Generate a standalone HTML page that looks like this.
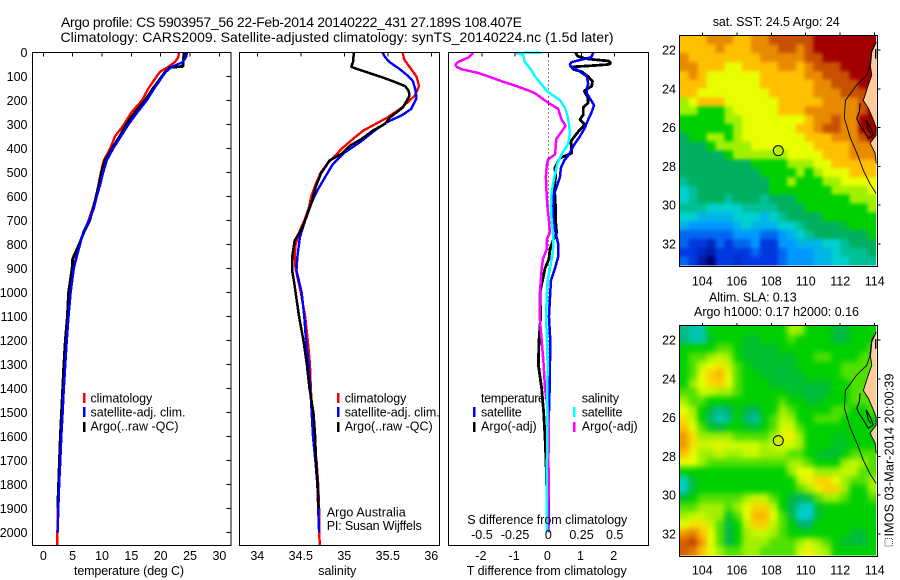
<!DOCTYPE html>
<html>
<head>
<meta charset="utf-8">
<title>Argo profile CS 5903957_56</title>
<style>
html,body{margin:0;padding:0;background:#fff;width:900px;height:580px;overflow:hidden}
svg{display:block}
text{font-family:"Liberation Sans",Arial,sans-serif;font-size:12.5px;fill:#000}
.t{font-size:14px}
</style>
</head>
<body>
<svg id="fig" xmlns="http://www.w3.org/2000/svg" width="900" height="580" viewBox="0 0 900 580">
<defs>
<clipPath id="clipSst"><rect x="679.6" y="35.5" width="196.6" height="230"/></clipPath>
<clipPath id="clipSla"><rect x="679.6" y="326" width="196.6" height="229.5"/></clipPath>
<filter id="blurSst" filterUnits="userSpaceOnUse" x="640" y="0" width="260" height="300" color-interpolation-filters="sRGB"><feGaussianBlur stdDeviation="1.8"/></filter>
<filter id="blurSla" filterUnits="userSpaceOnUse" x="640" y="290" width="260" height="290" color-interpolation-filters="sRGB"><feGaussianBlur stdDeviation="2.8"/></filter>
</defs>
<rect width="900" height="580" fill="#fff"/>
<text class="t" x="61" y="27" textLength="461" lengthAdjust="spacing">Argo profile: CS 5903957_56 22-Feb-2014 20140222_431 27.189S 108.407E</text>
<text class="t" x="60.5" y="42" textLength="553" lengthAdjust="spacing">Climatology: CARS2009. Satellite-adjusted climatology: synTS_20140224.nc (1.5d later)</text>

<g id="marks"></g>

<rect x="32.5" y="52.5" width="198.5" height="493" fill="none" stroke="#000"/>
<rect x="239.5" y="52.5" width="200" height="493" fill="none" stroke="#000"/>
<rect x="448.5" y="52.5" width="200" height="493" fill="none" stroke="#000"/>
<rect x="679.5" y="35.5" width="198" height="231" fill="none" stroke="#000"/>
<rect x="679.5" y="325.5" width="198" height="231" fill="none" stroke="#000"/>

<text x="74" y="575" textLength="110" lengthAdjust="spacing">temperature (deg C)</text>
<text x="318.3" y="575" textLength="38" lengthAdjust="spacing">salinity</text>
<text x="466.7" y="575" textLength="160" lengthAdjust="spacing">T difference from climatology</text>
<text x="467.3" y="524" textLength="160" lengthAdjust="spacing">S difference from climatology</text>

<g>
<rect x="83" y="393" width="2.5" height="10" fill="#f00"/>
<rect x="83" y="407" width="2.5" height="10" fill="#00f"/>
<rect x="83" y="422" width="2.5" height="10" fill="#000"/>
<text x="90.5" y="402.5" textLength="61.7" lengthAdjust="spacing">climatology</text>
<text x="90.5" y="416.5" textLength="95" lengthAdjust="spacing">satellite-adj. clim.</text>
<text x="90.5" y="430.5" textLength="88" lengthAdjust="spacing">Argo(..raw -QC)</text>
</g>
<g>
<rect x="337" y="393" width="2.5" height="10" fill="#f00"/>
<rect x="337" y="407" width="2.5" height="10" fill="#00f"/>
<rect x="337" y="422" width="2.5" height="10" fill="#000"/>
<text x="344.7" y="402.5" textLength="61.7" lengthAdjust="spacing">climatology</text>
<text x="344.7" y="416.5" textLength="95" lengthAdjust="spacing">satellite-adj. clim.</text>
<text x="344.7" y="430.5" textLength="88" lengthAdjust="spacing">Argo(..raw -QC)</text>
</g>
<g>
<text x="481" y="402.5" textLength="64" lengthAdjust="spacing">temperature</text>
<text x="481" y="416.5" textLength="40.7" lengthAdjust="spacing">satellite</text>
<text x="481" y="430.5" textLength="55.7" lengthAdjust="spacing">Argo(-adj)</text>
<rect x="473" y="407" width="2.5" height="10" fill="#00f"/>
<rect x="473" y="422" width="2.5" height="10" fill="#000"/>
<text x="581.7" y="402.5" textLength="37.3" lengthAdjust="spacing">salinity</text>
<text x="581.7" y="416.5" textLength="40.7" lengthAdjust="spacing">satellite</text>
<text x="581.7" y="430.5" textLength="56" lengthAdjust="spacing">Argo(-adj)</text>
<rect x="573" y="407" width="2.5" height="10" fill="#0ff"/>
<rect x="573" y="422" width="2.5" height="10" fill="#f0f"/>
</g>
<text x="326.7" y="516.5" textLength="79" lengthAdjust="spacing">Argo Australia</text>
<text x="326.7" y="530" textLength="95" lengthAdjust="spacing">PI: Susan Wijffels</text>

<text x="712.7" y="26" textLength="127" lengthAdjust="spacing">sat. SST: 24.5 Argo: 24</text>
<text x="709" y="301.5" textLength="87.7" lengthAdjust="spacing">Altim. SLA: 0.13</text>
<text x="694" y="316" textLength="165" lengthAdjust="spacing">Argo h1000: 0.17 h2000: 0.16</text>

<rect x="885" y="538.5" width="7.5" height="7.5" fill="none" stroke="#555" stroke-dasharray="1 1"/>
<text transform="translate(893.5 536.5) rotate(-90)" textLength="163" lengthAdjust="spacing">IMOS 03-Mar-2014 20:00:39</text>
</svg>
<script>
// ---- axis data ----
const depthTicks = [0,100,200,300,400,500,600,700,800,900,1000,1100,1200,1300,1400,1500,1600,1700,1800,1900,2000];
const tempTicks = [0,5,10,15,20,25,30];
const salTicks = [34,34.5,35,35.5,36];
const salTickLabels = ['34','34.5','35','35.5','36'];
const tDiffTicks = [-2,-1,0,1,2];
const sDiffTicks = [-0.5,-0.25,0,0.25,0.5];
const sDiffTickLabels = ['-0.5','-0.25','0','0.25','0.5'];
const lonTicks = [104,106,108,110,112,114];
const latTicks = [22,24,26,28,30,32];

// ---- temperature panel ----
const tempClimDepth = [0,20,40,60,80,100,150,200,250,300,350,400,450,500,550,600,650,700,750,800,850,900,1000,1100,1200,1300,1400,1500,1600,1700,1800,1850,1900,2000,2056];
const tempClim = [23.1,23,22.4,21.3,19.9,19.3,17.9,16.8,15,13.75,12.2,11.4,10.3,9.8,9.4,9,8.4,7.7,6.9,6.1,5.6,5.2,4.5,4.25,3.95,3.7,3.45,3.25,3.05,2.85,2.65,2.5,2.5,2.4,2.4];
const tempSatDepth = [0,20,40,60,80,100,150,200,250,300,350,400,450,500,550,600,650,700,750,800,850,900,1000,1100,1200,1300,1400,1500,1600,1700,1800,1900,2000];
const tempSat = [24.5,24.3,23.75,21.9,20.9,20.3,18.9,17.6,16,14.5,13.2,11.9,10.8,10.2,9.7,9.1,8.6,7.8,6.8,6.25,5.7,5.2,4.66,4.3,4,3.75,3.5,3.3,3.07,2.9,2.7,2.56,2.44];
const tempArgoDepth = [0,20,40,58,62,80,100,150,200,250,300,350,400,450,500,550,600,650,700,750,800,860,900,1000,1100,1200,1300,1400,1500,1600,1700,1800,1900];
const tempArgo = [24,23.9,23.8,23.8,21.6,20.8,20.2,18.7,17.3,15.6,14.1,13,11.7,10.5,9.9,9.5,9,8.5,7.9,6.9,6.1,5,4.9,4.3,4.1,3.75,3.5,3.3,3.1,2.9,2.75,2.6,2.45];

// ---- salinity panel ----
const salClimDepth = [0,30,60,100,140,180,200,230,272,325,360,401,433,457,500,550,600,650,700,750,800,850,900,950,1000,1100,1200,1300,1400,1500,1600,1700,1800,1900,2000,2056];
const salClim = [35.67,35.69,35.75,35.83,35.86,35.81,35.75,35.66,35.49,35.22,35.1,34.97,34.89,34.82,34.73,34.67,34.62,34.59,34.54,34.48,34.44,34.43,34.44,34.47,34.5,34.55,34.58,34.605,34.615,34.63,34.65,34.68,34.7,34.71,34.71,34.72];
const salSatDepth = [0,20,40,70,100,120,160,190,235,262,290,325,374,415,464,519,575,644,700,769,853,908,1000,1100,1200,1300,1400,1500,1600,1700,1800,1900,2000];
const salSat = [35.44,35.47,35.52,35.64,35.74,35.79,35.82,35.83,35.77,35.66,35.49,35.35,35.18,35.01,34.87,34.78,34.69,34.6,34.55,34.49,34.46,34.45,34.51,34.54,34.56,34.59,34.61,34.625,34.64,34.667,34.69,34.7,34.71];
const salArgoDepth = [0,40,60,80,100,120,140,160,180,200,230,272,297,325,360,387,422,450,478,505,561,630,700,742,783,853,908,950,1000,1100,1200,1300,1400,1500,1600,1700,1800,1900];
const salArgo = [35.11,35.1,35.08,35.24,35.41,35.56,35.7,35.74,35.75,35.72,35.67,35.52,35.47,35.33,35.2,35.07,34.97,34.83,34.78,34.73,34.67,34.62,34.55,34.5,34.43,34.4,34.4,34.42,34.44,34.48,34.53,34.57,34.6,34.645,34.665,34.675,34.695,34.705];

// ---- difference panel ----
const dTSatDepth = [0,20,30,40,50,60,70,100,130,150,170,190,220,250,280,320,350,390,420,450,480,520,560,600,700,750,800,850,900,950,1000,1100,1200,1300,1400,1500,1600,1700,1800,1900,2000];
const dTSat = [1.36,1.29,1,0.7,0.65,0.68,0.85,1.16,1.2,1.16,1.16,1.25,1.38,1.3,1.2,1.08,0.95,0.75,0.65,0.48,0.38,0.35,0.25,0.15,0.15,0.22,0.3,0.3,0.2,0.08,0.06,0.02,0.06,0.05,0.04,0.02,0.02,0,0.01,0.02,0];
const dTArgoDepth = [0,15,25,30,35,40,45,50,55,60,70,80,100,120,140,160,190,210,230,260,280,300,330,370,400,420,440,480,520,560,600,650,700,750,780,820,860,900,1000,1100,1200,1300,1400,1500,1600,1700,1800,1900,2000];
const dTArgo = [0.82,0.88,1.1,1.4,1.8,1.86,1.88,1.8,1.3,0.7,0.75,1,1.2,1.33,1.31,1.08,1.2,1.2,1.05,1.05,0.95,1.1,0.9,0.68,0.7,0.7,0.35,0.2,0.22,0.18,0.2,0.22,0.22,0.25,0.15,0.05,0.02,-0.1,-0.25,-0.23,-0.28,-0.3,-0.2,-0.14,-0.1,-0.07,-0.05,-0.03,-0.02];
const dSSatDepth = [0,3,10,40,60,80,100,130,160,180,200,230,260,300,340,380,420,460,520,580,640,700,750,800,850,900,950,1000,1100,1200,1300,1400,1500,1600,1700,1800,1900,2000];
const dSSat = [-0.05,-0.24,-0.19,-0.176,-0.146,-0.12,-0.1,-0.055,-0.0125,0.04,0.09,0.125,0.143,0.156,0.163,0.15,0.105,0.07,0.045,0.025,0.02,0.025,0.035,0.038,0.03,0.0125,-0.005,-0.01,-0.017,-0.01,-0.005,-0.007,-0.007,-0.007,-0.01,-0.01,-0.01,-0.01];
const dSArgoDepth = [0,10,20,30,40,50,60,70,85,100,120,140,160,170,190,210,235,260,280,305,330,360,400,425,445,470,520,600,650,700,750,780,820,860,900,1000,1100,1200,1300,1400,1500,1600,1700,1800,1900,2000];
const dSArgo = [-0.565,-0.58,-0.6,-0.64,-0.68,-0.7,-0.69,-0.65,-0.53,-0.45,-0.35,-0.24,-0.14,-0.1,-0.05,0,0.075,0.088,0.1,0.13,0.1,0.06,0.055,0.05,0,-0.012,-0.018,-0.012,-0.005,0.005,0.012,-0.012,-0.012,-0.04,-0.05,-0.063,-0.065,-0.05,-0.035,-0.025,0,0.005,0,0.005,0,-0.005];

// ---- map data: colour-scale level per cell (0 dark blue .. 11 dark red) ----
const sstLevels = [
[8,8,8,9,9,9,8,8,9,9,10,10,10,10,10,11,11,11,11,11,11,11],
[8,8,8,8,9,8,8,8,9,9,9,10,10,9,10,11,11,11,11,11,11,11],
[9,8,8,8,8,8,8,8,8,9,9,9,9,9,10,10,11,11,11,11,11,11],
[9,9,8,8,8,7,7,8,8,8,8,9,9,8,9,10,10,10,11,11,11,11],
[8,9,8,7,7,7,7,7,7,8,8,8,8,8,9,9,10,10,10,11,11,11],
[8,8,8,7,7,7,7,7,7,8,8,8,8,8,8,9,9,10,10,10,11,11],
[8,8,7,7,7,7,7,7,7,7,8,8,8,8,8,9,9,9,10,10,10,11],
[6,7,8,8,8,7,7,7,7,7,7,8,8,8,8,8,9,9,9,9,10,10],
[6,6,5,5,5,6,7,7,7,7,7,8,8,8,9,9,9,9,9,9,10,11],
[5,5,5,5,5,6,6,7,7,7,7,7,7,7,8,9,9,10,9,9,11,11],
[5,5,5,5,5,5,6,7,7,7,7,7,7,8,8,9,10,10,9,9,11,11],
[4,5,5,6,6,5,6,7,7,7,7,7,7,7,8,8,8,9,9,9,10,11],
[4,4,4,5,6,6,6,6,7,7,7,7,7,7,7,8,8,8,8,9,9,9],
[4,4,4,4,4,5,6,6,6,6,6,6,7,7,7,7,8,8,8,9,9,9],
[4,4,4,4,4,4,4,4,5,5,5,5,6,6,6,7,7,8,8,8,8,8],
[4,4,4,4,4,4,4,4,4,5,5,5,5,6,5,6,7,7,7,8,8,8],
[3.5,4,4,4,4,4,4,4,4,4,5,5,6,5,5,5,6,6,7,7,7,7],
[3,3.5,4,4,4,4,4,4,4,4,5,5,5,5,5,5,5,6,6,6,6,7],
[3,3.5,4,4,4,3.5,4,4,4,3.5,4,4,4,5,5,5,5,5,5,6,6,6],
[3.5,3.5,3.5,3,3,3,3,3.5,3.5,3.5,3.5,4,4,4,5,5,5,5,5,5,5,6],
[3,3,2.5,2.5,2.5,2.5,3,3,3,2.5,3,3.5,4,4,4,4,5,5,5,5,5,5],
[2.5,2,2,2,2,2,2.5,3,2.5,2.5,2.5,3,3,3.5,4,4,4,4,4.5,5,5,5],
[1.5,1.5,1.5,1.5,1.5,1.5,2,2,2,1.5,1.5,2,2.5,3,3.5,4,4,4,4,4,4,5],
[1.5,1,1,0.7,1.5,1,1.5,1.5,2,1,1,2,2,2.5,2.5,2.5,3,3,3.5,4,4,4],
[1,1,0.7,0.5,1,1,1,1,1.5,1,1,1.5,2,2,2,2.5,2.5,3,3.5,3.5,3.5,4],
[1.5,1,0.5,0,1,1,0.8,1,1,1,1,1.5,2,2,2,2.5,2.5,3,3,3.5,3.5,3.5]
];
const slaLevels = [
[3.7,3.3,3.3,5,5,5,5,5,5,5,5,5,6,6,5,5,5,4.3,4.3,5,5,5],
[3.7,3.3,3.3,4.5,5,5,5,4.5,4.5,5,5,5,5.5,5,5,5,5,4.3,4.3,5,5,5],
[5,5,5,5,5.5,5.5,5,4.5,4.5,4.5,4.5,5,5,5,5,5,5,5,5,5,5,5.5],
[5,5.5,5.5,6,6.5,6,5,4.5,4.5,4.5,4.5,4.5,4.5,5,5,5.5,5.5,5,5,5,5.5,5.5],
[5,5.5,6.5,7,7.5,6.5,5.5,5,4.5,4.5,4.5,4.5,4.5,5,5,5,5,5,5.5,5.5,5.5,5.5],
[5,5.5,7,7.8,8.2,7,5.5,5,5,4.5,4.5,4.3,4.5,4.5,5,5,5,5,5.5,5.5,5.5,5.5],
[5,6,7,7.5,7.8,7,5.5,5,5,5,4.5,4.5,4.5,4.5,4.5,4.5,4.5,5,5,5.5,5.5,5.5],
[5.5,5.5,6.5,6.5,6,6,5.5,5,5,5,5,5,4.5,4.5,4.3,4.3,4.5,5,5,5.5,5.5,5.5],
[6,5.5,5.5,5,5,5,5,5,5,5,5,5.5,5,5,4.5,4.5,5,5,5,5.5,5.5,5.5],
[7,6,5,4.3,3.6,4,5,4.2,4,5,5,6,5.5,5,5,5,5,5.5,5.5,5,5,5.5],
[7.5,6.5,5,3.8,3.2,3.6,5,3.8,3.4,4.7,5.5,6.3,6,5,5,5.5,5.5,5.5,5,5,5,5],
[8,7,5.5,4.7,4.2,5,5,4.7,4.4,5,5.5,6.7,6.7,5.5,5,5,5,5,5,5,5,5],
[8.7,7.5,6,6,6,6,5.5,5.5,5.5,5.5,6,7.2,7.2,6,5,5,5,4.7,4.7,5,5,5],
[8.7,7.5,6.5,6.7,7.2,6.7,6.7,6.7,6.7,6,6.5,6.7,6.7,6,5,5,5,4.6,4.6,5,5,5],
[8,7,6,6,6.5,6,6,6.5,6.5,6,6,6,5.5,5.5,5,4.7,4.4,4.4,5,5.5,5.5,5.5],
[7,7,6,5.5,5.5,5.5,5.5,5.5,5.5,5.5,5.5,5.5,6,6,5.5,5,5,5,6,6.5,6,5.5],
[5,5,5,5,5,5,5,5,5,5,5,5,6,7,7,6,6,6,6.5,6.5,5.5,5.5],
[3.1,4.5,5,5,5,5,5,5,5,5,5,5,5,6.5,7.2,7.7,7.7,7,6,5.5,5.5,6],
[2.9,4.5,5,5,5,5,5,5,5,5,5,5,5,5.5,6,7.2,7.8,7.7,6,5,5,6],
[4.5,5,5.5,5.5,5.5,5.5,5.5,6,6.5,6.5,5.5,5,4.3,4,4.3,5.5,6,6,5.5,5,5,5.5],
[5.5,5.5,6,6,6,5.5,6,7,7.7,7.7,6.5,5,4.2,3.3,3,4.5,5,5,5,5,5,5],
[6,6.5,6.5,6,6,4.7,5.5,7,8.2,8.2,7,5.5,4.3,3,2.8,4.5,5,5,5,5,5,5],
[7,7.5,7.5,6.5,5.5,4.3,5,6.5,7.7,7.7,6.5,5.5,5,3.9,3.9,5,5,5,5,5,5,5],
[8.7,9.2,8,7,5.5,4.2,5,6,6.5,6.5,6,5.5,5,5,5,5,5,5,5,4.4,4.4,5],
[9.7,10.2,8.7,7,5.5,4.2,5,6,6,6,5.5,5.5,5.5,6,6.7,6,5.5,5,4.4,4.4,4.4,5],
[9.7,9.2,8,7,6,5.5,5.5,6,6,5.5,5.5,5.5,5.5,6.7,7.2,6.5,6,5,5,5,5,5]
];
const landLon = [114.1,113.83,113.73,113.83,113.63,113.34,113.63,113.92,114.12,114.08,113.73,114.02,114.12];
const landLat = [21.6,22,22.7,23.3,23.8,24.6,25,25.6,26,26.4,26.8,27.3,27.85];
const shelfLon = [114.1,113.83,113.77,113.54,112.96,112.3,112.24,112.57,112.96,113.34,113.73,114.12];
const shelfLat = [21.6,22.1,22.7,23.3,23.8,24.6,25.5,26.5,27.3,28.2,28.9,29.4];
const bayLon = [113.15,113.11,112.96,113.09,113.34,113.63,113.92,113.73,113.5,113.63,113.77];
const bayLat = [24.75,25.18,25.52,25.78,26.12,26.55,26.38,25.95,25.6,26.12,26.3];
const capeLon = [114.08,114.08];
const capeLat = [21.95,22.45];
const floatLon = 108.407;
const floatLat = 27.189;

// ---- axis functions ----
const yD = d => 52.5 + d * 0.24;
const xT = v => 43.3 + v * 5.87;
const xS = v => 257.3 + (v - 34) * 87;
const xDT = v => 548.3 + v * 33.2;
const xDS = v => 548.3 + v * 132.8;
const xLon = v => 702.3 + (v - 104) * 17.24;
const yLatSst = v => 50 + (v - 22) * 19.4;
const yLatSla = v => 340 + (v - 22) * 19.4;

const NS = 'http://www.w3.org/2000/svg';
const root = document.getElementById('marks');
function el(tag, attrs, txt, parent) {
  const e = document.createElementNS(NS, tag);
  for (const k in attrs) e.setAttribute(k, attrs[k]);
  if (txt !== undefined && txt !== null) e.textContent = txt;
  (parent || root).appendChild(e);
  return e;
}
function pts(xs, ys) { return xs.map((x, i) => x.toFixed(2) + ',' + ys[i].toFixed(2)).join(' '); }

function profile(name, values, depths, xf, color, w) {
  const line = el('polyline', {points: pts(values.map(xf), depths.map(yD)), fill: 'none', stroke: color, 'stroke-width': w, 'stroke-linejoin': 'bevel', 'shape-rendering': 'crispEdges'});
  
  
}
function label(name, x, y, anchor, txt) {
  const t = el('text', {x: x, y: y, 'text-anchor': anchor}, txt);
  
  
}
function tick(name, x1, y1, x2, y2) {
  const t = el('line', {x1: x1, y1: y1, x2: x2, y2: y2, stroke: '#000', 'stroke-width': 1, 'shape-rendering': 'crispEdges'});
  
  
}

// ---- colour scale ----
const stops = ['#000070','#0038e0','#0098ff','#00d0d0','#00b060','#00d000','#a0f000','#e8ff00','#ffc000','#e88a00','#c85000','#a00000'];
function rgb(h) { return [1, 3, 5].map(i => parseInt(h.substr(i, 2), 16)); }
function levelColor(v) {
  const lo = Math.max(0, Math.min(10, Math.floor(v)));
  const f = Math.max(0, Math.min(1, v - lo));
  const a = rgb(stops[lo]), b = rgb(stops[lo + 1]);
  return 'rgb(' + a.map((c, i) => Math.round(c + (b[i] - c) * f)).join(',') + ')';
}

// ---- maps ----
function drawMap(prefix, levels, top, bottom, yLat, markerFill, clipId, blurId) {
  const left = 679.6, right = 876.2;
  const cw = (right - left) / levels[0].length, ch = (bottom - top) / levels.length;
  const clip = el('g', {'clip-path': 'url(#' + clipId + ')'});
  
  
  const blur = el('g', {filter: 'url(#' + blurId + ')'}, null, clip);
  
  
  const pad = 14; // edge cells bleed past the clip so smoothing does not fade at the border
  levels.forEach((row, j) => row.forEach((v, i) => {
    const x0 = left + i * cw - (i === 0 ? pad : 0);
    const x1 = left + (i + 1) * cw + (i === row.length - 1 ? pad : 0.6);
    const y0 = top + j * ch - (j === 0 ? pad : 0);
    const y1 = top + (j + 1) * ch + (j === levels.length - 1 ? pad : 0.6);
    const c = el('rect', {x: x0.toFixed(2), y: y0.toFixed(2), width: (x1 - x0).toFixed(2), height: (y1 - y0).toFixed(2), fill: levelColor(v), 'shape-rendering': 'crispEdges'}, null, blur);
    
    
  }));
  const lx = landLon.map(v => Math.min(xLon(v), right));
  const ly = landLat.map(yLat);
  const poly = lx.map((x, i) => x.toFixed(2) + ',' + ly[i].toFixed(2));
  poly.push(right + ',' + ly[ly.length - 1].toFixed(2));
  poly.push(right + ',' + ly[0].toFixed(2));
  const land = el('polygon', {points: poly.join(' '), fill: '#ffcc99'});
  
  
  const coast = el('polyline', {points: pts(lx, ly), fill: 'none', stroke: '#000', 'stroke-width': 0.9});
  
  
  const shelf = el('polyline', {points: pts(shelfLon.map(v => Math.min(xLon(v), right)), shelfLat.map(yLat)), fill: 'none', stroke: '#000', 'stroke-width': 0.9});
  
  
  const bay = el('polyline', {points: pts(bayLon.map(xLon), bayLat.map(yLat)), fill: 'none', stroke: '#000', 'stroke-width': 1.1});
  
  
  const cape = el('polyline', {points: pts(capeLon.map(v => Math.min(xLon(v), right - 0.5)), capeLat.map(yLat)), fill: 'none', stroke: '#000', 'stroke-width': 1.4});
  
  
  const dot = el('circle', {cx: xLon(floatLon).toFixed(2), cy: yLat(floatLat).toFixed(2), r: 5, fill: markerFill, stroke: '#000', 'stroke-width': 1});
  
  
  latTicks.forEach(v => {
    tick(prefix + '-lat-tick', 877.5, yLat(v), 880.5, yLat(v));
    label(prefix + '-lat-label', 676, yLat(v) + 4.5, 'end', String(v));
  });
  lonTicks.forEach(v => {
    tick(prefix + '-lon-tick', xLon(v), top - 3, xLon(v), top);
    label(prefix + '-lon-label', xLon(v), bottom + (prefix === 'sst-map' ? 20 : 19), 'middle', String(v));
  });
}
drawMap('sst-map', sstLevels, 35.5, 265.5, yLatSst, '#b8f000', 'clipSst', 'blurSst');
drawMap('sla-map', slaLevels, 326, 555.5, yLatSla, '#c8f000', 'clipSla', 'blurSla');

// ---- profile panels ----
profile('temperature-climatology-line', tempClim, tempClimDepth, xT, '#f00', 2.4);
profile('temperature-argo-line', tempArgo, tempArgoDepth, xT, '#000', 2.8);
profile('temperature-satellite-line', tempSat, tempSatDepth, xT, '#00f', 2.4);

profile('salinity-climatology-line', salClim, salClimDepth, xS, '#f00', 2.4);
profile('salinity-satellite-line', salSat, salSatDepth, xS, '#00f', 2.4);
profile('salinity-argo-line', salArgo, salArgoDepth, xS, '#000', 2.5);

const zero = el('line', {x1: xDT(0), y1: yD(0), x2: xDT(0), y2: yD(1500), stroke: '#000', 'stroke-width': 1, 'stroke-dasharray': '1 3', 'shape-rendering': 'crispEdges'});


profile('t-difference-argo-line', dTArgo, dTArgoDepth, xDT, '#000', 2.8);
profile('t-difference-satellite-line', dTSat, dTSatDepth, xDT, '#00f', 2.5);
profile('s-difference-argo-line', dSArgo, dSArgoDepth, xDS, '#f0f', 2.5);
profile('s-difference-satellite-line', dSSat, dSSatDepth, xDS, '#0ff', 2.5);

// ---- ticks and tick labels ----
depthTicks.forEach(d => {
  tick('depth-tick', 226.5, yD(d), 231, yD(d));
  label('depth-tick-label', 27.5, yD(d) + 4.5, 'end', String(d));
});
tempTicks.forEach(v => {
  tick('temperature-tick', xT(v), 52.5, xT(v), 56.5);
  label('temperature-tick-label', xT(v), 560, 'middle', String(v));
});
salTicks.forEach((v, i) => {
  tick('salinity-tick', xS(v), 52.5, xS(v), 56.5);
  label('salinity-tick-label', xS(v), 560, 'middle', salTickLabels[i]);
});
tDiffTicks.forEach(v => {
  tick('t-difference-tick', xDT(v), 52.5, xDT(v), 56.5);
  label('t-difference-tick-label', xDT(v) - 1, 560, 'middle', String(v));
});
sDiffTicks.forEach((v, i) => {
  label('s-difference-tick-label', xDS(v), 539, 'middle', sDiffTickLabels[i]);
});
</script>
</body>
</html>
